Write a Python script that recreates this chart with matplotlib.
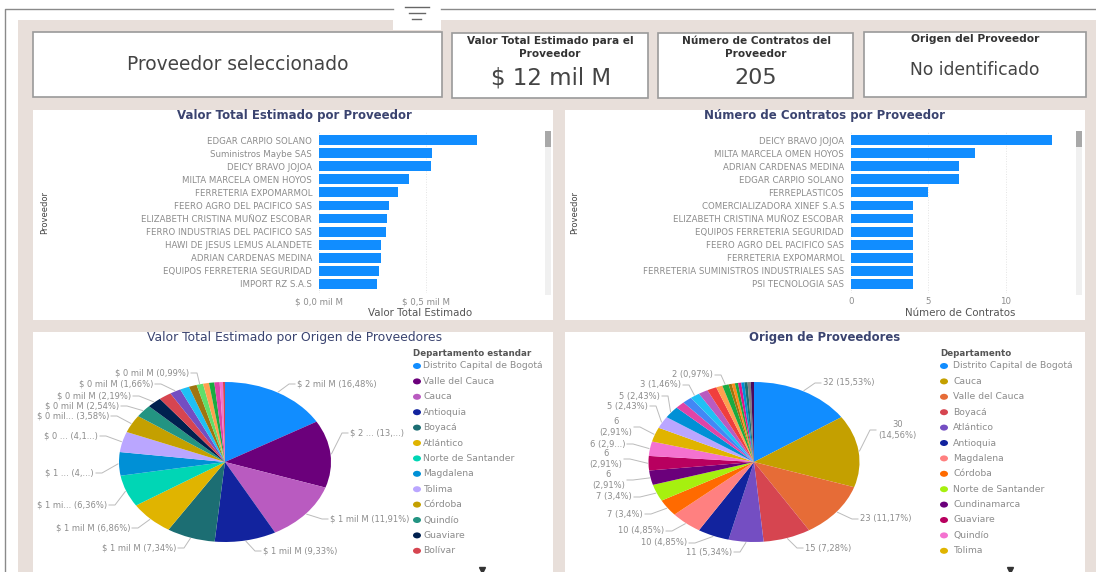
import numpy as np
import matplotlib
matplotlib.use('Agg')
import matplotlib.pyplot as plt
from matplotlib.patches import Rectangle, Ellipse

W, H = 1096, 572

# barras
prov_valor = ['EDGAR CARPIO SOLANO', 'Suministros Maybe SAS', 'DEICY BRAVO JOJOA', 'MILTA MARCELA OMEN HOYOS',
              'FERRETERIA EXPOMARMOL', 'FEERO AGRO DEL PACIFICO SAS', 'ELIZABETH CRISTINA MUÑOZ ESCOBAR',
              'FERRO INDUSTRIAS DEL PACIFICO SAS', 'HAWI DE JESUS LEMUS ALANDETE', 'ADRIAN CARDENAS MEDINA',
              'EQUIPOS FERRETERIA SEGURIDAD', 'IMPORT RZ S.A.S']
valor = [0.738, 0.528, 0.522, 0.42, 0.37, 0.327, 0.318, 0.313, 0.29, 0.289, 0.28, 0.271]

prov_contratos = ['DEICY BRAVO JOJOA', 'MILTA MARCELA OMEN HOYOS', 'ADRIAN CARDENAS MEDINA', 'EDGAR CARPIO SOLANO',
                  'FERREPLASTICOS', 'COMERCIALIZADORA XINEF S.A.S', 'ELIZABETH CRISTINA MUÑOZ ESCOBAR',
                  'EQUIPOS FERRETERIA SEGURIDAD', 'FEERO AGRO DEL PACIFICO SAS', 'FERRETERIA EXPOMARMOL',
                  'FERRETERIA SUMINISTROS INDUSTRIALES SAS', 'PSI TECNOLOGIA SAS']
contratos = [13, 8, 7, 7, 5, 4, 4, 4, 4, 4, 4, 4]

# tortas
pct_valor = [16.48, 13.5, 11.91, 9.33, 7.34, 6.86, 6.36, 4.7, 4.1, 3.58, 2.54, 2.19, 1.9, 1.66, 1.4, 1.2, 0.99,
             0.9, 0.8, 0.8, 0.5, 0.3]
colores_valor = ['#118DFF', '#6B007B', '#B95BC0', '#12239E', '#1C6E73', '#E0B400', '#00D6B5', '#0090D6', '#BAA6FF',
                 '#C4A000', '#239482', '#00204F', '#D64550', '#744EC2', '#1FC0F5', '#A0740F', '#5FDE6A', '#FFA04F',
                 '#1AAB40', '#E044A7', '#F472D0', '#D64550']
ley_valor = ['Distrito Capital de Bogotá', 'Valle del Cauca', 'Cauca', 'Antioquia', 'Boyacá', 'Atlántico',
             'Norte de Santander', 'Magdalena', 'Tolima', 'Córdoba', 'Quindío', 'Guaviare', 'Bolívar']

num_origen = [32, 30, 23, 15, 11, 10, 10, 7, 7, 6, 6, 6, 6, 5, 5, 3, 3, 3, 3, 3, 2, 2, 1, 1, 1, 1, 1, 1, 1, 1]
colores_origen = ['#118DFF', '#C4A000', '#E66C37', '#D64550', '#744EC2', '#12239E', '#FF8080', '#FF6A00', '#A6F00F',
                  '#6B007B', '#B8005F', '#F472D0', '#E0B400', '#BAA6FF', '#0090D6', '#E044A7', '#4287F5', '#1FC0F5',
                  '#B95BC0', '#F03E3E', '#FFA04F', '#1AAB40', '#A0740F', '#FF8C1A', '#1AAB40', '#E0148C', '#0090D6',
                  '#1C6E73', '#808080', '#4B0A5E']
ley_origen = ['Distrito Capital de Bogotá', 'Cauca', 'Valle del Cauca', 'Boyacá', 'Atlántico', 'Antioquia',
              'Magdalena', 'Córdoba', 'Norte de Santander', 'Cundinamarca', 'Guaviare', 'Quindío', 'Tolima']

# etiquetas: indice de la porcion, texto, x, y del extremo del texto
etq_valor = [(0, '$ 2 mil M (16,48%)', 297, 384), (1, '$ 2 ... (13,...)', 350, 433), (2, '$ 1 mil M (11,91%)', 330, 519),
             (3, '$ 1 mil M (9,33%)', 263, 551), (4, '$ 1 mil M (7,34%)', 176, 548), (5, '$ 1 mil M (6,86%)', 130, 528),
             (6, '$ 1 mi... (6,36%)', 107, 505), (7, '$ 1 ... (4,...)', 94, 473), (8, '$ 0 ... (4,1...)', 98, 436),
             (9, '$ 0 mil... (3,58%)', 109, 416), (10, '$ 0 mil M (2,54%)', 119, 406), (11, '$ 0 mil M (2,19%)', 131, 396),
             (13, '$ 0 mil M (1,66%)', 153, 384), (16, '$ 0 mil M (0,99%)', 189, 373)]
etq_origen = [(0, '32 (15,53%)', 823, 383), (1, '30\n(14,56%)', 878, 430), (2, '23 (11,17%)', 860, 519),
              (3, '15 (7,28%)', 805, 548), (4, '11 (5,34%)', 732, 552), (5, '10 (4,85%)', 687, 543),
              (6, '10 (4,85%)', 664, 531), (7, '7 (3,4%)', 643, 514), (8, '7 (3,4%)', 632, 497),
              (9, '6\n(2,91%)', 625, 480), (10, '6\n(2,91%)', 622, 459), (11, '6 (2,9...)', 625, 444),
              (12, '6\n(2,91%)', 632, 427), (13, '5 (2,43%)', 648, 406), (14, '5 (2,43%)', 660, 396),
              (17, '3 (1,46%)', 681, 385), (21, '2 (0,97%)', 713, 375)]

BEIGE = '#E8DFDA'
AZUL = '#118DFF'
TITULO = '#3B4470'
GRIS = '#8C8C8C'
OSCURO = '#555555'

plt.rcParams['font.family'] = ['DejaVu Sans']

fig = plt.figure(figsize=(W / 100, H / 100), dpi=100)


def px_axes(x0, y0, x1, y1, z=1):
    return fig.add_axes([x0 / W, 1 - y1 / H, (x1 - x0) / W, (y1 - y0) / H], zorder=z)


fondo = px_axes(0, 0, W, H, 0)
fondo.set_xlim(0, W)
fondo.set_ylim(H, 0)
fondo.axis('off')

sobre = px_axes(0, 0, W, H, 5)
sobre.set_xlim(0, W)
sobre.set_ylim(H, 0)
sobre.axis('off')
sobre.patch.set_alpha(0)

# marco y fondo
fondo.add_patch(Rectangle((18, 20), W - 18, H - 20, fc=BEIGE, ec='none'))
fondo.add_patch(Rectangle((393, 0), 48, 30, fc='white', ec='none'))
fondo.plot([5, 5, 393], [H, 9, 9], color='#8A8A8A', lw=1)
fondo.plot([441, W], [9, 9], color='#8A8A8A', lw=1)
for ya, xa, xb in [(6.5, 405, 429), (13, 409, 425), (19, 412, 421)]:
    fondo.plot([xa, xb], [ya, ya], color='#666666', lw=1)


def tarjeta(x0, y0, x1, y1):
    fondo.add_patch(Rectangle((x0, y0), x1 - x0, y1 - y0, fc='white', ec='#9A9A9A', lw=1.2))


tarjeta(33, 32, 442, 97)
tarjeta(452, 33, 648, 98)
tarjeta(658, 33, 853, 98)
tarjeta(864, 32, 1086, 97)

sobre.text(238, 65, 'Proveedor seleccionado', ha='center', va='center', fontsize=13.4, color='#444444')
sobre.text(550, 47.5, 'Valor Total Estimado para el\nProveedor', ha='center', va='center', fontsize=7.6,
           fontweight='bold', color='#333333', linespacing=1.45)
sobre.text(551, 78, '$ 12 mil M', ha='center', va='center', fontsize=16.5, color='#444444')
sobre.text(756, 47.5, 'Número de Contratos del\nProveedor', ha='center', va='center', fontsize=7.6,
           fontweight='bold', color='#333333', linespacing=1.45)
sobre.text(756, 78, '205', ha='center', va='center', fontsize=16, color='#444444')
sobre.text(975, 39, 'Origen del Proveedor', ha='center', va='center', fontsize=7.7, fontweight='bold', color='#333333')
sobre.text(975, 70, 'No identificado', ha='center', va='center', fontsize=12.3, color='#444444')

# paneles
for caja in [(33, 110, 553, 320), (565, 110, 1085, 320), (33, 332, 553, H + 5), (565, 332, 1085, H + 5)]:
    fondo.add_patch(Rectangle((caja[0], caja[1]), caja[2] - caja[0], caja[3] - caja[1], fc='white', ec='none'))

sobre.text(294, 116, 'Valor Total Estimado por Proveedor', ha='center', va='center', fontsize=8.5,
           fontweight='bold', color=TITULO)
sobre.text(825, 116, 'Número de Contratos por Proveedor', ha='center', va='center', fontsize=8.5,
           fontweight='bold', color=TITULO)
sobre.text(295, 338, 'Valor Total Estimado por Origen de Proveedores', ha='center', va='center', fontsize=8.9,
           color=TITULO)
sobre.text(825, 338, 'Origen de Proveedores', ha='center', va='center', fontsize=8.4, fontweight='bold', color=TITULO)


def barras(x0, x1, px_unidad, nombres, datos, ticks, etiquetas):
    ax = px_axes(x0, 131, x1, 293)
    y = np.arange(len(nombres))
    ax.barh(y, datos, height=0.76, color=AZUL)
    ax.set_xlim(0, (x1 - x0) / px_unidad)
    ax.set_ylim(11.7, -0.7)
    ax.set_yticks(y, nombres, fontsize=6.2, color=GRIS)
    ax.set_xticks(ticks, etiquetas, fontsize=6.2, color=GRIS)
    ax.tick_params(length=0, axis='y', pad=5)
    ax.tick_params(length=0, axis='x', pad=3)
    ax.grid(axis='x', color='#E4E4E4', lw=0.7, ls=':')
    ax.set_axisbelow(True)
    for lado in ax.spines.values():
        lado.set_visible(False)
    return ax


barras(319, 543, 214, prov_valor, valor, [0, 0.5], ['$ 0,0 mil M', '$ 0,5 mil M'])
barras(851, 1074, 15.45, prov_contratos, contratos, [0, 5, 10], ['0', '5', '10'])

sobre.text(420, 313, 'Valor Total Estimado', ha='center', va='center', fontsize=7.4, color=OSCURO)
sobre.text(960, 313, 'Número de Contratos', ha='center', va='center', fontsize=7.4, color=OSCURO)
sobre.text(44.5, 212, 'Proveedor', ha='center', va='center', rotation=90, fontsize=6, color='#444444')
sobre.text(575, 212, 'Proveedor', ha='center', va='center', rotation=90, fontsize=6, color='#444444')

# barras de desplazamiento
for xs in [545, 1075.5]:
    fondo.add_patch(Rectangle((xs, 131), 6, 164, fc='#F0F0F0', ec='none'))
    fondo.add_patch(Rectangle((xs, 131), 6, 16, fc='#A8A8A8', ec='none'))


def torta(cx, cy, rx, ry, datos, colores, etiquetas):
    ax = px_axes(cx - rx, cy - ry, cx + rx, cy + ry)
    cunas, _ = ax.pie(datos, colors=colores, startangle=90, counterclock=False, radius=1)
    ax.set_aspect('auto')
    ax.set_xlim(-1, 1)
    ax.set_ylim(-1, 1)
    for i, txt, tx, ty in etiquetas:
        ang = np.radians((cunas[i].theta1 + cunas[i].theta2) / 2)
        ex = cx + rx * 1.01 * np.cos(ang)
        ey = cy - ry * 1.01 * np.sin(ang)
        derecha = ex > cx
        signo = 1 if derecha else -1
        codo = tx - signo * 8
        sobre.plot([ex, codo, tx - signo * 2], [ey, ty, ty], color='#BBBBBB', lw=0.7)
        sobre.text(tx, ty, txt, ha='left' if derecha else 'right', va='center', fontsize=6, color=GRIS,
                   multialignment='center', linespacing=1.15)


torta(225, 462, 106, 80, pct_valor, colores_valor, etq_valor)
torta(754, 462, 105.5, 80, num_origen, colores_origen, etq_origen)


def leyenda(titulo, x_tit, x_mark, x_txt, nombres, colores):
    sobre.text(x_tit, 353, titulo, ha='left', va='center', fontsize=6.3, fontweight='bold', color=OSCURO)
    for k, nombre in enumerate(nombres):
        y_ley = 366 + k * 15.4
        sobre.add_patch(Ellipse((x_mark, y_ley), 8, 6, fc=colores[k], ec='none'))
        sobre.text(x_txt, y_ley, nombre, ha='left', va='center', fontsize=6.7, color=GRIS)


leyenda('Departamento estandar', 413, 417, 423, ley_valor, colores_valor)
leyenda('Departamento', 940, 944, 953, ley_origen, colores_origen)

# marcas inferiores
sobre.plot([482, 1010], [569.5, 569.5], ls='none', marker='v', ms=4, color='#333333')

fig.savefig('out.png', dpi=100)
